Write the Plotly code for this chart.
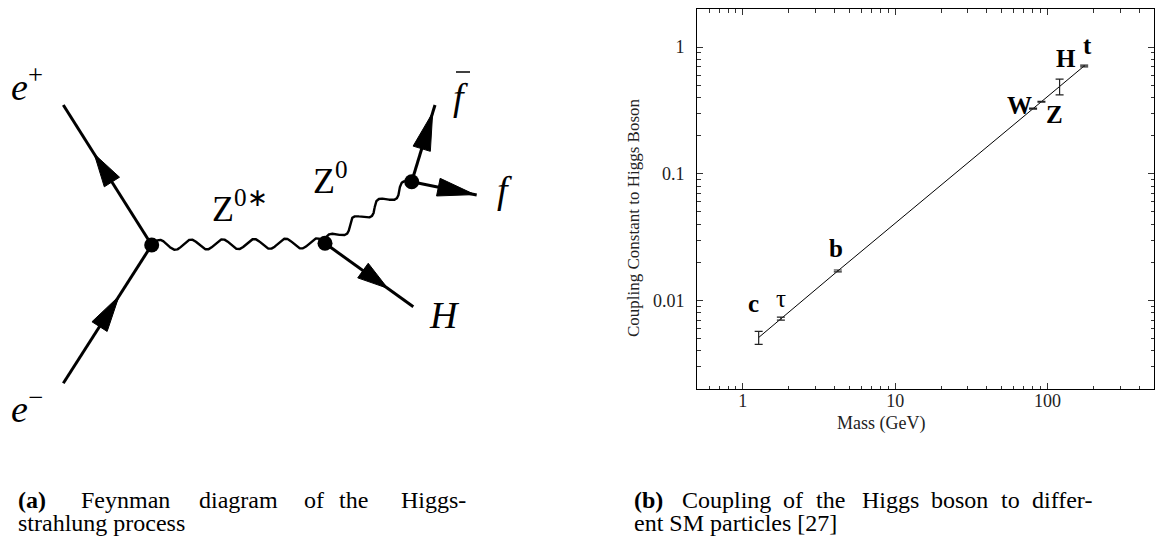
import numpy as np
import plotly.graph_objects as go

# ---------------- coupling of the Higgs boson vs particle mass ----------------
particles = ["<b>c</b>", "τ", "<b>b</b>", "<b>W</b>", "<b>Z</b>", "<b>H</b>", "<b>t</b>"]
mass_gev = [1.27, 1.777, 4.2, 80.4, 91.2, 120.0, 174.0]
coupling = [0.0051, 0.0072, 0.0171, 0.327, 0.371, 0.49, 0.71]
coupling_err = [0.0006, 0.0002, 0.0003, 0.003, 0.003, 0.07, 0.012]
# label offsets from each point, in pixels (right, up)
label_dx = [-5, 0, -2, -14, 13, 6, 3]
label_dy = [34, 20, 22, 3, -13, 28, 20]

x_ticks = [1, 10, 100]
x_tick_text = ["1", "10", "100"]
y_ticks = [0.01, 0.1, 1]
y_tick_text = ["0.01", "0.1", "1"]
x_minor = [0.6, 0.7, 0.8, 0.9, 2, 3, 4, 5, 6, 7, 8, 9,
           20, 30, 40, 50, 60, 70, 80, 90, 200, 300, 400]
y_minor = [0.003, 0.004, 0.005, 0.006, 0.007, 0.008, 0.009,
           0.02, 0.03, 0.04, 0.05, 0.06, 0.07, 0.08, 0.09,
           0.2, 0.3, 0.4, 0.5, 0.6, 0.7, 0.8, 0.9]

# ---------------- Higgs-strahlung Feynman diagram (pixel frame) ----------------
vertex_x = [151.7, 325.0, 411.7]
vertex_y = [245.0, 243.3, 181.7]

# fermion / scalar lines: start, end, arrow tip and base as fractions along the line
fermion_names = ["e+", "e-", "H", "fbar", "f"]
fermion_x0 = [151.7, 63.3, 325.0, 411.7, 411.7]
fermion_y0 = [245.0, 383.3, 243.3, 181.7, 181.7]
fermion_x1 = [63.3, 151.7, 413.3, 435.0, 476.7]
fermion_y1 = [105.0, 245.0, 306.7, 105.0, 195.0]
arrow_tip = [0.65, 0.63, 0.71, 0.90, 0.97]
arrow_base = [0.45, 0.41, 0.43, 0.43, 0.41]

# boson (wavy) lines: start, end, number of wiggle periods
boson_x0 = [151.7, 325.0]
boson_y0 = [245.0, 243.3]
boson_x1 = [325.0, 411.7]
boson_y1 = [243.3, 181.7]
boson_periods = [5.5, 3.5]

SERIF = "Liberation Serif"
W, H = 1156, 538

fig = go.Figure()

# ---- diagram ----
for x0, y0, x1, y1, tp, bp in zip(fermion_x0, fermion_y0, fermion_x1, fermion_y1,
                                  arrow_tip, arrow_base):
    fig.add_trace(go.Scatter(x=[x0, x1], y=[y0, y1], mode="lines",
                             line=dict(color="black", width=3),
                             xaxis="x2", yaxis="y2", hoverinfo="skip"))
    dx, dy = x1 - x0, y1 - y0
    length = np.hypot(dx, dy)
    nx, ny = -dy / length, dx / length
    tx, ty = x0 + dx * tp, y0 + dy * tp
    bx, by = x0 + dx * bp, y0 + dy * bp
    hw = 9.0
    fig.add_trace(go.Scatter(
        x=[tx, bx + nx * hw, bx - nx * hw, tx],
        y=[ty, by + ny * hw, by - ny * hw, ty],
        mode="lines", fill="toself", fillcolor="black",
        line=dict(color="black", width=1),
        xaxis="x2", yaxis="y2", hoverinfo="skip"))

for x0, y0, x1, y1, per in zip(boson_x0, boson_y0, boson_x1, boson_y1, boson_periods):
    t = np.linspace(0, 1, 600)
    dx, dy = x1 - x0, y1 - y0
    length = np.hypot(dx, dy)
    nx, ny = -dy / length, dx / length
    s = -5.0 * np.sin(2 * np.pi * per * t)
    fig.add_trace(go.Scatter(x=x0 + dx * t + nx * s, y=y0 + dy * t + ny * s,
                             mode="lines", line=dict(color="black", width=2.4),
                             xaxis="x2", yaxis="y2", hoverinfo="skip"))

fig.add_trace(go.Scatter(x=vertex_x, y=vertex_y, mode="markers",
                         marker=dict(size=15, color="black"),
                         xaxis="x2", yaxis="y2", hoverinfo="skip"))

# bar over the anti-fermion label
fig.add_trace(go.Scatter(x=[456, 470], y=[72, 72], mode="lines",
                         line=dict(color="black", width=1.5),
                         xaxis="x2", yaxis="y2", hoverinfo="skip"))

diagram_labels = [
    ("<i>e</i><sup>+</sup>", 9, 84, 38),
    ("<i>e</i><sup>−</sup>", 9, 406, 38),
    ("Z<sup>0∗</sup>", 210, 206, 36),
    ("Z<sup>0</sup>", 311, 178, 36),
    ("<i>f</i>", 451, 97, 38),
    ("<i>f</i>", 495, 190, 38),
    ("<i>H</i>", 427, 315, 38),
]
annotations = []
for txt, x, y, sz in diagram_labels:
    annotations.append(dict(text=txt, x=x, y=y, xref="x2", yref="y2",
                            xanchor="left", yanchor="middle", showarrow=False,
                            font=dict(family=SERIF, size=sz, color="black")))

# ---- coupling plot ----
fig.add_trace(go.Scatter(x=mass_gev, y=coupling, mode="lines",
                         line=dict(color="black", width=1),
                         xaxis="x", yaxis="y", hoverinfo="skip"))
fig.add_trace(go.Scatter(x=mass_gev, y=coupling, mode="markers",
                         marker=dict(size=1, color="rgba(0,0,0,0)"),
                         error_y=dict(type="data", array=coupling_err, color="#222",
                                      thickness=1.2, width=4),
                         xaxis="x", yaxis="y", hoverinfo="skip"))

for name, m, c, dxp, dyp in zip(particles, mass_gev, coupling, label_dx, label_dy):
    annotations.append(dict(text=name, x=np.log10(m), y=np.log10(c), xref="x", yref="y",
                            xshift=dxp, yshift=dyp, showarrow=False,
                            font=dict(family=SERIF, size=25, color="black")))

# axis titles
annotations.append(dict(text="Mass (GeV)", x=927 / W, y=1 - 436 / H, xref="paper", yref="paper",
                        showarrow=False, font=dict(family=SERIF, size=18, color="#222")))
annotations.append(dict(text="Coupling Constant to Higgs Boson", x=634 / W, y=1 - 218 / H,
                        xref="paper", yref="paper", textangle=-90, showarrow=False,
                        font=dict(family=SERIF, size=17, color="#222")))

# sub-captions: first lines are justified, so each word is set at its own x
# (text, x, y, anchor)
caption_words = [
    ("<b>(a)</b>", 17, 500, "left"), ("Feynman", 80, 500, "left"),
    ("diagram", 198, 500, "left"), ("of", 303, 500, "left"),
    ("the", 338, 500, "left"), ("Higgs-", 467, 500, "right"),
    ("strahlung process", 17, 523, "left"),
    ("<b>(b)</b>", 633, 500, "left"), ("Coupling", 681, 500, "left"),
    ("of", 782, 500, "left"), ("the", 815, 500, "left"),
    ("Higgs", 861, 500, "left"), ("boson", 930, 500, "left"),
    ("to", 1000, 500, "left"), ("differ-", 1093, 500, "right"),
    ("ent SM particles [27]", 633, 523, "left"),
]
for txt, x, y, anchor in caption_words:
    annotations.append(dict(text=txt, x=x / W, y=1 - y / H, xref="paper", yref="paper",
                            xanchor=anchor, yanchor="middle", showarrow=False,
                            borderpad=0,
                            font=dict(family=SERIF, size=24, color="black")))

axis_common = dict(type="log", showgrid=False, zeroline=False, showline=True,
                   linecolor="black", linewidth=1, mirror="allticks",
                   ticks="inside", ticklen=6, tickwidth=1, tickcolor="#333",
                   tickfont=dict(family=SERIF, size=18, color="#222"), tickmode="array")

fig.update_layout(
    width=W, height=H, margin=dict(l=0, r=0, t=0, b=0),
    paper_bgcolor="white", plot_bgcolor="white", showlegend=False, hovermode=False,
    xaxis=dict(axis_common, domain=[697 / W, 1154 / W],
               range=[np.log10(0.5), np.log10(500)],
               tickvals=x_ticks, ticktext=x_tick_text, ticklabelstandoff=-5,
               minor=dict(tickmode="array", tickvals=x_minor, ticks="inside",
                          ticklen=3.5, tickwidth=1, tickcolor="#333")),
    yaxis=dict(axis_common, domain=[1 - 389 / H, 1 - 9 / H],
               range=[np.log10(0.002), np.log10(2)],
               tickvals=y_ticks, ticktext=y_tick_text, ticklabelstandoff=8,
               minor=dict(tickmode="array", tickvals=y_minor, ticks="inside",
                          ticklen=3.5, tickwidth=1, tickcolor="#333")),
    xaxis2=dict(domain=[0, 578 / W], range=[0, 578], visible=False, fixedrange=True),
    yaxis2=dict(domain=[0, 1], range=[H, 0], visible=False, fixedrange=True),
    annotations=annotations,
)

fig.write_html("out.html")
